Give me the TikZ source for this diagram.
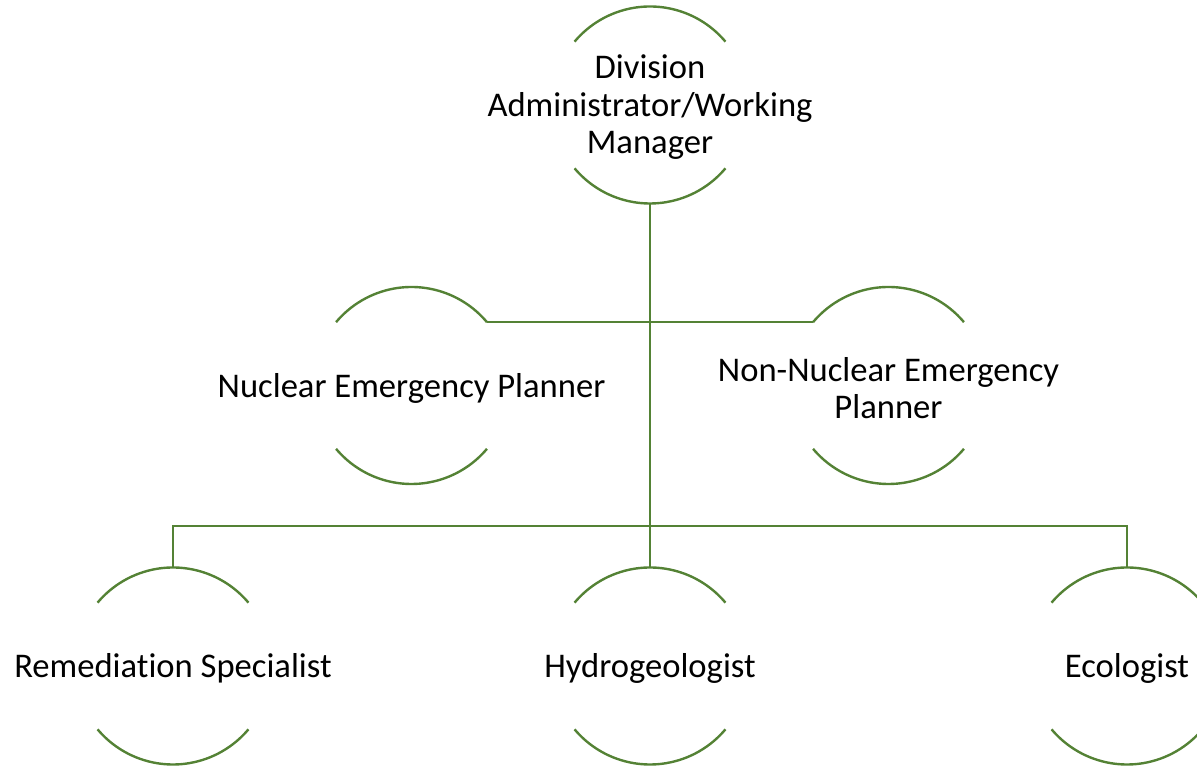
\documentclass[tikz,border=0pt]{standalone}
\usepackage{fontspec}
\setmainfont{Carlito}[Ligatures=NoCommon]
\definecolor{lineg}{RGB}{84,130,53}
\begin{document}
\begin{tikzpicture}[x=1pt,y=1pt,
  role/.style={circle, minimum size=197pt, inner sep=0pt, outer sep=0pt, draw=none},
  txt/.style={font=\fontsize{34.6}{37.5}\selectfont, align=center, text=black, inner sep=0pt, yshift=-2.5pt},
  link/.style={draw=lineg, line width=2.4pt},
  arcline/.style={draw=lineg, line width=2.4pt}]
\useasboundingbox (0,0) rectangle (1197,767);
\node[role] (top) at (650,662) {};
\node[role] (nuc) at (411.5,381.5) {};
\node[role] (non) at (888.5,381.5) {};
\node[role] (rem) at (173,101) {};
\node[role] (hyd) at (650,101) {};
\node[role] (eco) at (1127,101) {};
\node[txt] (ttop) at (top.center) {Division\\Administrator/Working\\Manager};
\node[txt] (tnuc) at (nuc.center) {Nuclear Emergency Planner};
\node[txt] (tnon) at (non.center) {Non-Nuclear Emergency\\Planner};
\node[txt] (trem) at (rem.center) {Remediation Specialist};
\node[txt] (thyd) at (hyd.center) {Hydrogeologist};
\node[txt] (teco) at (eco.center) {Ecologist};
\foreach \n in {top,nuc,non,rem,hyd,eco}{
  \draw[arcline] (\n.40) arc[start angle=40,end angle=140,radius=98.5pt];
  \draw[arcline] (\n.220) arc[start angle=220,end angle=320,radius=98.5pt];
}
\coordinate (bus) at (650,241);
\draw[link] (top.south) -- (hyd.north);
\draw[link] (nuc.40) -- (non.140);
\draw[link] (rem.north) |- (bus) -| (eco.north);
\end{tikzpicture}
\end{document}
